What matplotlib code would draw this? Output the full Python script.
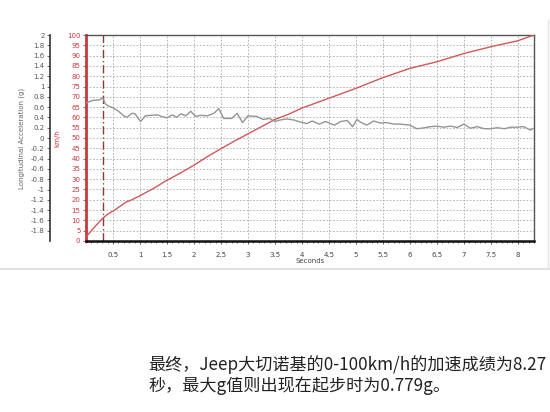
import matplotlib.pyplot as plt
import numpy as np
from matplotlib.ticker import MultipleLocator
from matplotlib.lines import Line2D

# speed trace (km/h) vs time (s)
speed_t = [0, 0.1, 0.2, 0.31, 0.4, 0.5, 0.75, 0.85, 1.0, 1.25, 1.5, 1.75, 2.0, 2.25,
           2.5, 2.75, 3.0, 3.25, 3.5, 3.75, 4.0, 4.5, 5.0, 5.5, 6.0, 6.5, 7.0, 7.5,
           8.0, 8.3]
speed_v = [2, 5, 8, 11, 13, 14.5, 19, 20, 22, 25.5, 29.5, 33, 36.8, 41, 44.8, 48.5,
           52, 55.5, 59, 61.5, 64.5, 69.3, 74.1, 79.3, 83.8, 87, 91, 94.3, 97.2, 100]

# longitudinal acceleration (g)
acc_t = [0.00, 0.13, 0.25, 0.31, 0.36, 0.42, 0.51, 0.60, 0.70, 0.76, 0.85, 0.91,
         1.01, 1.10, 1.20, 1.32, 1.40, 1.50, 1.60, 1.68, 1.76, 1.85, 1.94, 2.03,
         2.12, 2.25, 2.37, 2.46, 2.55, 2.70, 2.80, 2.90, 3.00, 3.16, 3.28, 3.40,
         3.50, 3.60, 3.72, 3.85, 3.97, 4.09, 4.19, 4.32, 4.44, 4.60, 4.72, 4.84,
         4.94, 5.02, 5.08, 5.20, 5.33, 5.45, 5.57, 5.70, 5.82, 6.00, 6.13, 6.25,
         6.38, 6.50, 6.63, 6.75, 6.88, 7.00, 7.12, 7.25, 7.38, 7.50, 7.62, 7.75,
         7.87, 7.99, 8.11, 8.23, 8.30]
acc_g = [0.68, 0.73, 0.74, 0.779, 0.66, 0.62, 0.58, 0.52, 0.43, 0.40, 0.48, 0.47,
         0.32, 0.43, 0.44, 0.45, 0.42, 0.39, 0.45, 0.40, 0.47, 0.43, 0.52, 0.42,
         0.44, 0.43, 0.48, 0.57, 0.38, 0.38, 0.48, 0.30, 0.43, 0.42, 0.36, 0.38,
         0.32, 0.35, 0.37, 0.35, 0.31, 0.28, 0.33, 0.27, 0.32, 0.25, 0.32, 0.34,
         0.22, 0.36, 0.31, 0.25, 0.33, 0.29, 0.30, 0.27, 0.27, 0.25, 0.18, 0.195,
         0.22, 0.23, 0.21, 0.23, 0.205, 0.27, 0.19, 0.22, 0.18, 0.18, 0.20, 0.18,
         0.21, 0.21, 0.22, 0.155, 0.19]

launch_t = 0.31
x_ticks = [0.5, 1, 1.5, 2, 2.5, 3, 3.5, 4, 4.5, 5, 5.5, 6, 6.5, 7, 7.5, 8]
g_ticks = [2, 1.8, 1.6, 1.4, 1.2, 1, 0.8, 0.6, 0.4, 0.2, 0, -0.2, -0.4, -0.6,
           -0.8, -1, -1.2, -1.4, -1.6, -1.8]

caption1 = "最终，Jeep大切诺基的0-100km/h的加速成绩为8.27"
caption2 = "秒，最大g值则出现在起步时为0.779g。"

red = "#c8393c"
fig = plt.figure(figsize=(5.5, 4.12), dpi=100)
ax = fig.add_axes([86/550, 1-241/412, 448/550, 206/412])

ax.plot(speed_t, speed_v, color="#d0585a", lw=1.0, zorder=3)
ax.axvline(launch_t, color="#8a3838", lw=1.0, ls=(0, (6, 2, 1, 2)), zorder=2)

ax.set_xlim(0, 8.3)
ax.set_ylim(0, 100)
ax.set_xticks(x_ticks)
ax.set_xticklabels([("%g" % v) for v in x_ticks])
ax.set_yticks(range(0, 101, 5))
ax.xaxis.set_minor_locator(MultipleLocator(0.1))
ax.tick_params(axis="x", labelsize=5, colors="#444444", length=2, width=0.6, pad=6)
ax.tick_params(axis="x", which="minor", length=1.2, width=0.5, color="#333333")
ax.tick_params(axis="y", labelsize=5, colors=red, length=2.5, width=0.6, pad=1.5)
ax.grid(True, ls=(0, (2, 2)), color="#aaaaaa", lw=0.6)
ax.spines["left"].set_color(red)
ax.spines["left"].set_linewidth(2)
ax.spines["bottom"].set_color("#111111")
ax.spines["bottom"].set_linewidth(1.8)
ax.spines["top"].set_color("#555555")
ax.spines["top"].set_linewidth(1)
ax.spines["right"].set_color("#555555")
ax.spines["right"].set_linewidth(1)
ax.set_xlabel("Seconds", fontsize=5, color="#444444", labelpad=0)
ax.set_ylabel("km/h", fontsize=5, color=red, labelpad=5)

# acceleration axis on the far left
ax2 = ax.twinx()
ax2.plot(acc_t, acc_g, color="#959595", lw=1.0, zorder=3)
ax2.set_ylim(-2, 2)
ax2.set_yticks(g_ticks)
ax2.set_yticklabels([("%g" % v) for v in g_ticks])
ax2.spines["left"].set_position(("axes", -36/448))
ax2.spines["left"].set_visible(True)
ax2.spines["left"].set_color("#333333")
ax2.spines["left"].set_linewidth(1.2)
ax2.spines["right"].set_visible(False)
ax2.spines["top"].set_visible(False)
ax2.spines["bottom"].set_visible(False)
ax2.yaxis.set_ticks_position("left")
ax2.yaxis.set_label_position("left")
ax2.tick_params(axis="y", labelsize=5, colors="#555555", length=2.5, width=0.6, pad=1.5)
ax2.set_ylabel("Longitudinal Acceleration (g)", fontsize=5, color="#666666", labelpad=4)

# panel border lines
fig.add_artist(Line2D([0, 1], [1-269/412, 1-269/412], color="#dddddd", lw=1.2))
fig.add_artist(Line2D([548/550, 548/550], [1-269/412, 1-20/412], color="#e4e4e4", lw=1.0))

fig.text(148/550, 1-365/412, caption1, fontsize=12.3, va="center", ha="left",
         color="#222222", family=["Noto Sans CJK SC", "DejaVu Sans"])
fig.text(148/550, 1-386/412, caption2, fontsize=12.3, va="center", ha="left",
         color="#222222", family=["Noto Sans CJK SC", "DejaVu Sans"])

fig.savefig("out.png", dpi=100)
